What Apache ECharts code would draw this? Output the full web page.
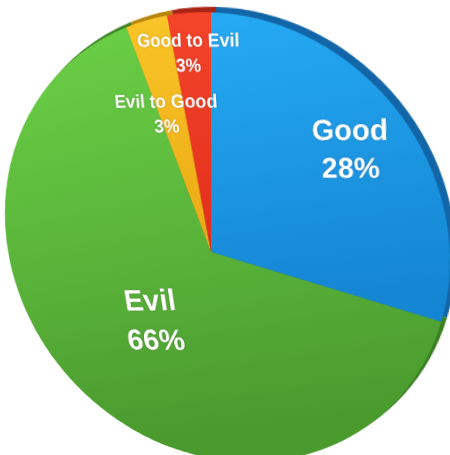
<!DOCTYPE html>
<html>
<head>
<meta charset="utf-8">
<script src="https://cdn.jsdelivr.net/npm/echarts@6/dist/echarts.min.js"></script>
<style>
html,body{margin:0;padding:0;background:#fff;}
#wrap{position:relative;width:450px;height:455px;overflow:hidden;background:#fff;}
#chart{position:absolute;left:-75px;top:-70px;width:600px;height:600px;}
</style>
</head>
<body>
<div id="wrap"><div id="chart"></div></div>
<script>
// Data
const categories = ['Good', 'Evil', 'Evil to Good', 'Good to Evil'];
const values = [28, 66, 3, 3];

// Styles
const topColors = [
  ['#25AAF3', '#1586D4'],
  ['#6CD247', '#4A9A2E'],
  ['#F9C527', '#EBA915'],
  ['#F4442A', '#E12E1C']
];
const rimColors = ['#1266A8', '#3A7F22', '#B8850E', '#A82414'];
// on-screen label font sizes / line heights / centres
const labelFont = [29, 29, 18, 18];
const labelLine = [38, 39, 24, 24];
const labelScreen = [[350, 151], [153, 322], [166, 115], [188, 54]];

// perspective setup (tilted pie)
const OFF = [-75, -70];
const CENTER = [286, 322];      // pie centre inside the chart div
const RADIUS = 234;
const D = 1000, AX = -18.6 * Math.PI / 180, AY = -19.4 * Math.PI / 180;
const ca = Math.cos(AX), sa = Math.sin(AX), cb = Math.cos(AY), sb = Math.sin(AY);
const R00 = cb, R01 = 0, R10 = sa * sb, R11 = ca, R20 = -ca * sb, R21 = sa;
const el = document.getElementById('chart');
el.style.transformOrigin = CENTER[0] + 'px ' + CENTER[1] + 'px';
el.style.transform = 'perspective(' + D + 'px) rotateX(' + (AX * 180 / Math.PI) + 'deg) rotateY(' + (AY * 180 / Math.PI) + 'deg)';

function planeToScreenRel(u, w) {
  const x = R00 * u + R01 * w, y = R10 * u + R11 * w, z = R20 * u + R21 * w;
  const k = D / (D - z);
  return [x * k, y * k];
}
function screenToPlane(sx, sy) {
  const X = sx - (OFF[0] + CENTER[0]);
  const Y = sy - (OFF[1] + CENTER[1]);
  const a11 = D * R00 + X * R20, a12 = D * R01 + X * R21, b1 = X * D;
  const a21 = D * R10 + Y * R20, a22 = D * R11 + Y * R21, b2 = Y * D;
  const det = a11 * a22 - a12 * a21;
  const u = (b1 * a22 - a12 * b2) / det;
  const w = (a11 * b2 - b1 * a21) / det;
  return [u, w];
}
const labelXY = [], labelRot = [], labelScale = [];
labelScreen.forEach(p => {
  const uw = screenToPlane(p[0], p[1]);
  const s0 = planeToScreenRel(uw[0], uw[1]);
  const su = planeToScreenRel(uw[0] + 1, uw[1]);
  const sw = planeToScreenRel(uw[0], uw[1] + 1);
  const dxu = su[0] - s0[0], dyu = su[1] - s0[1];
  const dxw = sw[0] - s0[0], dyw = sw[1] - s0[1];
  const phi = Math.atan2(-dyu, dyw);
  labelXY.push([CENTER[0] + uw[0], CENTER[1] + uw[1]]);
  labelRot.push(-phi * 180 / Math.PI);
  labelScale.push(Math.sqrt(Math.abs(dxu * dyw - dyu * dxw)));
});

function grad(c) {
  return new echarts.graphic.LinearGradient(0, 0, 0.3, 1, [
    {offset: 0, color: c[0]}, {offset: 1, color: c[1]}
  ]);
}

const topData = categories.map((n, i) => ({
  name: n,
  value: values[i],
  itemStyle: {color: grad(topColors[i])},
  label: {
    fontSize: labelFont[i] / labelScale[i],
    lineHeight: labelLine[i] / labelScale[i],
    rotate: labelRot[i]
  }
}));
const rimData = categories.map((n, i) => ({
  name: n,
  value: values[i],
  itemStyle: {color: rimColors[i]}
}));

const chart = echarts.init(el, null, {renderer: 'canvas'});
chart.setOption({
  animation: false,
  series: [
    {
      type: 'pie',
      silent: true,
      center: [CENTER[0] + 5, CENTER[1] - 5],
      radius: RADIUS,
      startAngle: 90,
      clockwise: true,
      label: {show: false},
      labelLine: {show: false},
      itemStyle: {borderWidth: 0},
      data: rimData,
      z: 1
    },
    {
      type: 'pie',
      center: CENTER,
      radius: RADIUS,
      startAngle: 90,
      clockwise: true,
      itemStyle: {borderWidth: 0},
      label: {
        show: true,
        position: 'inside',
        color: '#ffffff',
        fontFamily: 'Liberation Sans, Arial, sans-serif',
        fontWeight: 'bold',
        align: 'center',
        verticalAlign: 'middle',
        textShadowColor: 'rgba(0,0,0,0.25)',
        textShadowBlur: 2,
        formatter: p => p.name + '\n' + p.value + '%'
      },
      labelLine: {show: false},
      labelLayout: function (params) {
        const p = labelXY[params.dataIndex];
        return {x: p[0], y: p[1], align: 'center', verticalAlign: 'middle'};
      },
      data: topData,
      z: 2
    }
  ]
});
</script>
</body>
</html>
